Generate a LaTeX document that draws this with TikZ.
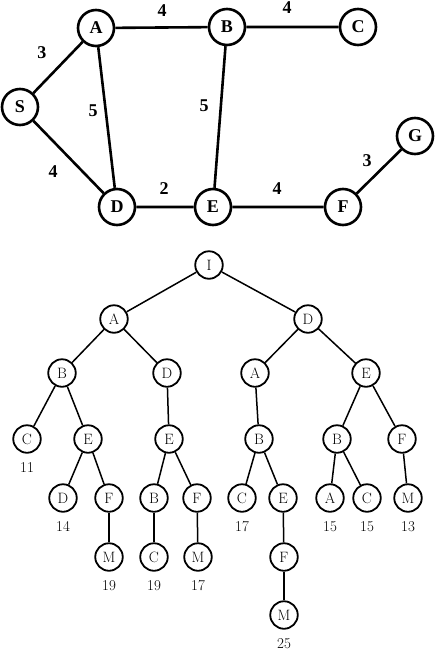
\documentclass[tikz,border=0pt]{standalone}
\usepackage{fontspec}
\newfontfamily\graphfont{Liberation Serif}
\begin{document}
\begin{tikzpicture}[x=1pt,y=-1pt,
	gnode/.style={black, draw, circle, line width=2.6pt, minimum size=36pt, inner sep=0pt, font=\graphfont\bfseries\fontsize{18}{20}\selectfont},
	gedge/.style={black, line width=2.6pt},
	wt/.style={inner sep=0pt, font=\graphfont\bfseries\fontsize{18}{20}\selectfont},
	tnode/.style={black, draw, circle, line width=1.8pt, minimum size=27.5pt, inner sep=0pt, font=\fontsize{15}{17}\selectfont},
	tedge/.style={black, line width=1.5pt},
	cost/.style={label={[font=\fontsize{15}{17}\selectfont, inner sep=0pt, label distance=8.5pt]below:#1}}]
			\useasboundingbox (0,0) rectangle (435,651);
			% weighted graph
			\node[gnode] (S) at (20,107){S};
			\node[gnode] (A) at (96,28){A};
			\node[gnode] (B) at (227,27){B};
			\node[gnode] (C) at (358,27){C};
			\node[gnode] (D) at (117,207){D};
			\node[gnode] (E) at (213,207){E};
			\node[gnode] (F) at (343,207){F};
			\node[gnode] (G) at (415,136){G};
			\draw[gedge] (S) -- (A) -- (B) -- (C);
			\draw[gedge] (S) -- (D) -- (E) -- (F) -- (G);
			\draw[gedge] (A) -- (D);
			\draw[gedge] (B) -- (E);
			\node[wt] (wSA) at (42,53){3};
			\node[wt] (wAB) at (162,11){4};
			\node[wt] (wBC) at (287,8){4};
			\node[wt] (wAD) at (93,111){5};
			\node[wt] (wBE) at (204,106){5};
			\node[wt] (wSD) at (53,172){4};
			\node[wt] (wDE) at (164,189){2};
			\node[wt] (wEF) at (277,189){4};
			\node[wt] (wFG) at (367,161){3};
			% search tree
			\node[tnode] (tI) at (209,265){I};
			\node[tnode] (tIA) at (114,319){A};
			\node[tnode] (tID) at (308,319){D};
			\node[tnode] (tIAB) at (62,373){B};
			\node[tnode] (tIAD) at (167,373){D};
			\node[tnode] (tIDA) at (255,373){A};
			\node[tnode] (tIDE) at (366,373){E};
			\node[tnode, cost=11] (tIABC) at (27,439){C};
			\node[tnode] (tIABE) at (88,439){E};
			\node[tnode] (tIADE) at (169,439){E};
			\node[tnode] (tIDAB) at (259,439){B};
			\node[tnode] (tIDEB) at (337,439){B};
			\node[tnode] (tIDEF) at (402,439){F};
			\node[tnode, cost=14] (tIABED) at (63,498){D};
			\node[tnode] (tIABEF) at (109,498){F};
			\node[tnode] (tIADEB) at (154,498){B};
			\node[tnode] (tIADEF) at (197,498){F};
			\node[tnode, cost=17] (tIDABC) at (242,498){C};
			\node[tnode] (tIDABE) at (283,498){E};
			\node[tnode, cost=15] (tIDEBA) at (330,498){A};
			\node[tnode, cost=15] (tIDEBC) at (367,498){C};
			\node[tnode, cost=13] (tIDEFM) at (408,498){M};
			\node[tnode, cost=19] (tIABEFM) at (109,557){M};
			\node[tnode, cost=19] (tIADEBC) at (154,557){C};
			\node[tnode, cost=17] (tIADEFM) at (198,557){M};
			\node[tnode] (tIDABEF) at (284,557){F};
			\node[tnode, cost=25] (tIDABEFM) at (284,615){M};
			\draw[tedge] (tI) -- (tIA);
			\draw[tedge] (tI) -- (tID);
			\draw[tedge] (tIA) -- (tIAB);
			\draw[tedge] (tIA) -- (tIAD);
			\draw[tedge] (tID) -- (tIDA);
			\draw[tedge] (tID) -- (tIDE);
			\draw[tedge] (tIAB) -- (tIABC);
			\draw[tedge] (tIAB) -- (tIABE);
			\draw[tedge] (tIAD) -- (tIADE);
			\draw[tedge] (tIDA) -- (tIDAB);
			\draw[tedge] (tIDE) -- (tIDEB);
			\draw[tedge] (tIDE) -- (tIDEF);
			\draw[tedge] (tIABE) -- (tIABED);
			\draw[tedge] (tIABE) -- (tIABEF);
			\draw[tedge] (tIADE) -- (tIADEB);
			\draw[tedge] (tIADE) -- (tIADEF);
			\draw[tedge] (tIDAB) -- (tIDABC);
			\draw[tedge] (tIDAB) -- (tIDABE);
			\draw[tedge] (tIDEB) -- (tIDEBA);
			\draw[tedge] (tIDEB) -- (tIDEBC);
			\draw[tedge] (tIDEF) -- (tIDEFM);
			\draw[tedge] (tIABEF) -- (tIABEFM);
			\draw[tedge] (tIADEB) -- (tIADEBC);
			\draw[tedge] (tIADEF) -- (tIADEFM);
			\draw[tedge] (tIDABE) -- (tIDABEF);
			\draw[tedge] (tIDABEF) -- (tIDABEFM);
		\end{tikzpicture}
\end{document}
